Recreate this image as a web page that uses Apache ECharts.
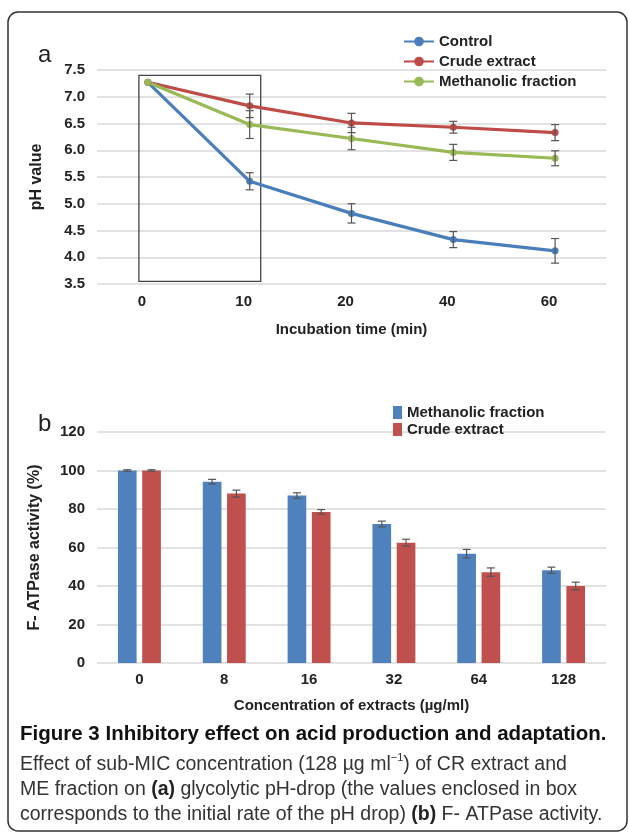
<!DOCTYPE html>
<html>
<head>
<meta charset="utf-8">
<script src="https://cdn.jsdelivr.net/npm/echarts@6/dist/echarts.min.js"></script>
<style>
  html, body { margin: 0; padding: 0; background: #fff; }
  #main { width: 629px; height: 834px; }
</style>
</head>
<body>
<div id="main"></div>
<script>
var chart = echarts.init(document.getElementById('main'));

// panel a: pH drop
var timeLabels = ['0', '10', '20', '40', '60'];
var controlPH = [7.27, 5.42, 4.82, 4.33, 4.12];
var controlErr = [0, 0.16, 0.18, 0.15, 0.23];
var crudePH = [7.27, 6.83, 6.51, 6.43, 6.33];
var crudeErr = [0, 0.22, 0.18, 0.11, 0.15];
var methPH = [7.27, 6.48, 6.22, 5.96, 5.85];
var methErr = [0, 0.26, 0.21, 0.15, 0.14];

// panel b: F-ATPase activity
var concLabels = ['0', '8', '16', '32', '64', '128'];
var methAct = [100, 94.2, 87, 72.2, 56.8, 48.2];
var methActErr = [0.4, 1.2, 1.4, 1.5, 2.2, 1.6];
var crudeAct = [100, 88, 78.5, 62.5, 47.2, 40];
var crudeActErr = [0.4, 1.8, 1.2, 1.8, 2.2, 2.0];

var labelFont = { fontFamily: 'Liberation Sans', fontWeight: 'bold', color: '#222' };

function errRows(vals, errs) {
    var rows = [];
    for (var i = 0; i < vals.length; i++) {
        if (errs[i] > 0) rows.push([i, vals[i] - errs[i], vals[i] + errs[i]]);
    }
    return rows;
}

// draws a vertical error bar with caps; shift = offset in band widths
function makeErrorBar(shift, cap) {
    return function (params, api) {
        var i = api.value(0);
        var band = api.size([1, 0])[0];
        var hi = api.coord([i, api.value(2)]);
        var lo = api.coord([i, api.value(1)]);
        var x = hi[0] + shift * band;
        var st = { stroke: '#555', lineWidth: 1.2 };
        return {
            type: 'group',
            children: [
                { type: 'line', shape: { x1: x, y1: hi[1], x2: x, y2: lo[1] }, style: st },
                { type: 'line', shape: { x1: x - cap, y1: hi[1], x2: x + cap, y2: hi[1] }, style: st },
                { type: 'line', shape: { x1: x - cap, y1: lo[1], x2: x + cap, y2: lo[1] }, style: st }
            ]
        };
    };
}

var blue = '#4a7ebb', red = '#be4b48', green = '#98b954';
var barBlue = '#4f81bd', barRed = '#c0504d';

function lineSeries(name, data, color) {
    return {
        name: name, type: 'line', xAxisIndex: 0, yAxisIndex: 0,
        data: data, symbol: 'circle', symbolSize: 7,
        lineStyle: { width: 3.2, color: color },
        itemStyle: { color: color },
        z: 3
    };
}

function errSeries(data, xi, shift, cap) {
    return {
        type: 'custom', xAxisIndex: xi, yAxisIndex: xi,
        renderItem: makeErrorBar(shift, cap),
        data: data, z: 4, silent: true
    };
}

var option = {
    animation: false,
    backgroundColor: '#fff',
    textStyle: { fontFamily: 'Liberation Sans' },
    grid: [
        { left: 97, top: 70, width: 509, height: 214 },
        { left: 97, top: 432, width: 509, height: 231 }
    ],
    legend: [
        {
            data: ['Control', 'Crude extract', 'Methanolic fraction'],
            orient: 'vertical', left: 398, top: 29, itemGap: 5,
            itemWidth: 30, itemHeight: 12,
            textStyle: { fontFamily: 'Liberation Sans', fontWeight: 'bold', fontSize: 15, color: '#222' }
        },
        {
            data: [
                { name: 'Methanolic fraction ', icon: 'rect' },
                { name: 'Crude extract ', icon: 'rect' }
            ],
            orient: 'vertical', left: 388, top: 400, itemGap: 2,
            itemWidth: 9, itemHeight: 13,
            textStyle: { fontFamily: 'Liberation Sans', fontWeight: 'bold', fontSize: 15, color: '#222' }
        }
    ],
    xAxis: [
        {
            type: 'category', gridIndex: 0, data: timeLabels,
            axisLine: { show: false }, axisTick: { show: false },
            axisLabel: Object.assign({ fontSize: 15, margin: 10, padding: [0, 12, 0, 0] }, labelFont),
            name: 'Incubation time (min)', nameLocation: 'middle', nameGap: 38,
            nameTextStyle: Object.assign({ fontSize: 15 }, labelFont)
        },
        {
            type: 'category', gridIndex: 1, data: concLabels,
            axisLine: { show: false }, axisTick: { show: false },
            axisLabel: Object.assign({ fontSize: 15, margin: 9 }, labelFont),
            name: 'Concentration of extracts (\u00b5g/ml)', nameLocation: 'middle', nameGap: 35,
            nameTextStyle: Object.assign({ fontSize: 15 }, labelFont)
        }
    ],
    yAxis: [
        {
            type: 'value', gridIndex: 0, min: 3.5, max: 7.5, interval: 0.5,
            axisLabel: Object.assign({ fontSize: 15, margin: 12, formatter: function (v) { return v.toFixed(1); } }, labelFont),
            splitLine: { lineStyle: { color: '#d9d9d9', width: 1.5 } },
            name: 'pH value', nameLocation: 'middle', nameGap: 52, nameRotate: 90,
            nameTextStyle: Object.assign({ fontSize: 16 }, labelFont)
        },
        {
            type: 'value', gridIndex: 1, min: 0, max: 120, interval: 20,
            axisLabel: Object.assign({ fontSize: 15, margin: 12 }, labelFont),
            splitLine: { lineStyle: { color: '#d9d9d9', width: 1.5 } },
            name: 'F- ATPase activity (%)', nameLocation: 'middle', nameGap: 54, nameRotate: 90,
            nameTextStyle: Object.assign({ fontSize: 16 }, labelFont)
        }
    ],
    series: [
        lineSeries('Control', controlPH, blue),
        lineSeries('Crude extract', crudePH, red),
        lineSeries('Methanolic fraction', methPH, green),
        errSeries(errRows(controlPH, controlErr), 0, 0, 4),
        errSeries(errRows(crudePH, crudeErr), 0, 0, 4),
        errSeries(errRows(methPH, methErr), 0, 0, 4),
        {
            name: 'Methanolic fraction ', type: 'bar', xAxisIndex: 1, yAxisIndex: 1,
            data: methAct, barWidth: '22%', barGap: '30%',
            itemStyle: { color: barBlue }
        },
        {
            name: 'Crude extract ', type: 'bar', xAxisIndex: 1, yAxisIndex: 1,
            data: crudeAct, barWidth: '22%', barGap: '30%',
            itemStyle: { color: barRed }
        },
        errSeries(errRows(methAct, methActErr), 1, -0.143, 4),
        errSeries(errRows(crudeAct, crudeActErr), 1, 0.143, 4)
    ],
    graphic: [
        {
            id: 'frame', type: 'rect', silent: true, z: -1,
            shape: { x: 8, y: 12, width: 619, height: 819, r: 10 },
            style: { fill: 'none', stroke: '#333', lineWidth: 1.5 }
        },
        { id: 'la', type: 'text', left: 38, top: 43, style: { text: 'a', fontSize: 24, fontFamily: 'Liberation Sans', fill: '#222' } },
        { id: 'lb', type: 'text', left: 38, top: 412, style: { text: 'b', fontSize: 24, fontFamily: 'Liberation Sans', fill: '#222' } },
        {
            id: 'cap1', type: 'text', left: 20, top: 724,
            style: { text: 'Figure 3 Inhibitory effect on acid production and adaptation.', fontSize: 20.5, fontWeight: 'bold', fontFamily: 'Liberation Sans', fill: '#111' }
        },
        {
            id: 'cap2', type: 'text', left: 20, top: 752,
            style: {
                rich: {
                    n: { fontSize: 19.5, fontFamily: 'Liberation Sans', fill: '#333', lineHeight: 25 },
                    b: { fontSize: 19.5, fontFamily: 'Liberation Sans', fontWeight: 'bold', fill: '#222', lineHeight: 25 },
                    s: { fontSize: 11, fontFamily: 'Liberation Sans', fill: '#333', verticalAlign: 'top', lineHeight: 25 }
                },
                text: '{n|Effect of sub-MIC concentration (128 \u00b5g ml}{s|\u22121}{n|) of CR extract and}\n' +
                      '{n|ME fraction on }{b|(a)}{n| glycolytic pH-drop (the values enclosed in box}\n' +
                      '{n|corresponds to the initial rate of the pH drop) }{b|(b)}{n| F- ATPase activity.}'
            }
        }
    ]
};

chart.setOption(option);

// box around the initial pH drop (categories 0 and 10)
var p0 = chart.convertToPixel({ xAxisIndex: 0, yAxisIndex: 0 }, [0, 7.4]);
var p1 = chart.convertToPixel({ xAxisIndex: 0, yAxisIndex: 0 }, [1, 3.55]);
chart.setOption({
    graphic: [{
        id: 'box', type: 'rect', silent: true, z: 2,
        shape: { x: p0[0] - 9, y: p0[1], width: p1[0] - p0[0] + 20, height: p1[1] - p0[1] },
        style: { fill: 'none', stroke: '#444', lineWidth: 1.3 }
    }]
});
</script>
</body>
</html>
